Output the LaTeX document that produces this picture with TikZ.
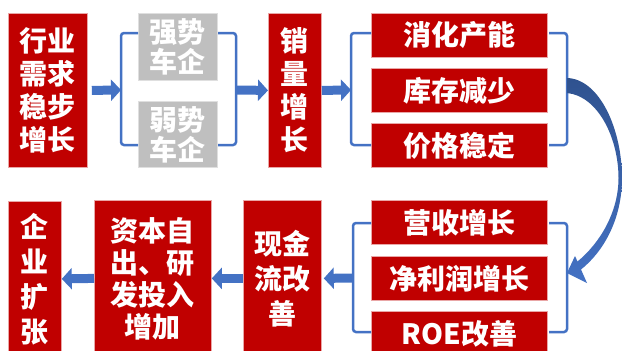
\documentclass[tikz,border=0pt]{standalone}
\usepackage{fontspec}
\setmainfont{Noto Sans CJK SC}
\usetikzlibrary{arrows.meta}
\definecolor{myred}{HTML}{C00000}
\definecolor{mygray}{HTML}{BFBFBF}
\definecolor{myblue}{HTML}{4472C4}
\definecolor{mydblue}{HTML}{2F528F}
\begin{document}
\begin{tikzpicture}[x=1pt,y=-1pt,
  box/.style={fill=myred, draw=myred!35!white, line width=0.8pt, text=white,
    font=\bfseries\fontsize{28}{33}\selectfont, align=center, inner sep=0pt, anchor=north west},
  gbox/.style={box, fill=mygray, draw=mygray!50!white, font=\bfseries\fontsize{28}{30}\selectfont},
  brk/.style={draw=myblue, line width=2.5pt, rounded corners=3pt},
  bigarrow/.style={draw=myblue, line width=9pt, -{Triangle[length=10pt,width=21pt]}}]
\useasboundingbox (0,0) rectangle (622,351);
\clip (0,0) rectangle (622,351);

% upper row
\node[box, minimum width=79, minimum height=154] (b1) at (8,13) {行业\\需求\\稳步\\增长};
\node[gbox, minimum width=79, minimum height=67] (gs) at (138,13) {强势\\车企};
\node[gbox, minimum width=79, minimum height=66] (gw) at (138,101) {弱势\\车企};
\node[box, minimum width=53, minimum height=154] (b2) at (268,13) {销\\量\\增\\长};
\node[box, minimum width=176, minimum height=44] (c1) at (371,13) {消化产能};
\node[box, minimum width=176, minimum height=44] (c2) at (371,68) {库存减少};
\node[box, minimum width=176, minimum height=44] (c3) at (371,123) {价格稳定};

% lower row
\node[box, minimum width=176, minimum height=44] (r1) at (371,200) {营收增长};
\node[box, minimum width=176, minimum height=44] (r2) at (371,256) {净利润增长};
\node[box, minimum width=176, minimum height=44] (r3) at (371,311) {ROE改善};
\node[box, minimum width=78, minimum height=156, font=\bfseries\fontsize{28}{35}\selectfont] (b3) at (243,200) {现金\\流改\\善};
\node[box, minimum width=117, minimum height=156, font=\bfseries\fontsize{28}{32}\selectfont] (b4) at (94,200) {资本自\\出、研\\发投入\\增加};
\node[box, minimum width=53, minimum height=155, font=\bfseries\fontsize{28}{35}\selectfont] (b5) at (8,201) {企\\业\\扩\\张};

% brackets
\draw[brk] (138,33) -- (121,33) -- (121,145) -- (138,145);
\draw[brk] (218,33) -- (236,33) -- (236,145) -- (218,145);
\draw[brk] (371,33) -- (351,33) -- (351,145) -- (371,145);
\draw[brk] (549,33) -- (567,33) -- (567,145) -- (549,145);
\draw[brk] (371,223) -- (353,223) -- (353,332) -- (371,332);
\draw[brk] (549,223) -- (567,223) -- (567,332) -- (549,332);

\coordinate (L1) at (121,90);
\coordinate (R1) at (236,90);
\coordinate (L2) at (351,90);
\coordinate (L3) at (353,278);

% straight arrows
\draw[bigarrow] ([xshift=4]b1.east) -- (L1);
\draw[bigarrow] (R1) -- (b2.west);
\draw[bigarrow] (b2.east) -- (L2);
\draw[bigarrow] (L3) -- ([xshift=2]b3.east);
\draw[bigarrow] (b3.west) -- (b4.east);
\draw[bigarrow] (b4.west) -- (b5.east);

% curved block arrow
\shade[top color=mydblue, bottom color=myblue]
  (567,78) .. controls (600,79) and (622,130) .. (622,178)
  .. controls (622,220) and (603,252) .. (581,269.5)
  -- (587,283) -- (567,273) -- (575,256) -- (577.5,261.5)
  .. controls (600,243) and (618.5,212) .. (618.5,178)
  .. controls (618.5,138) and (598,96) .. (567,93) -- cycle;
\end{tikzpicture}
\end{document}
